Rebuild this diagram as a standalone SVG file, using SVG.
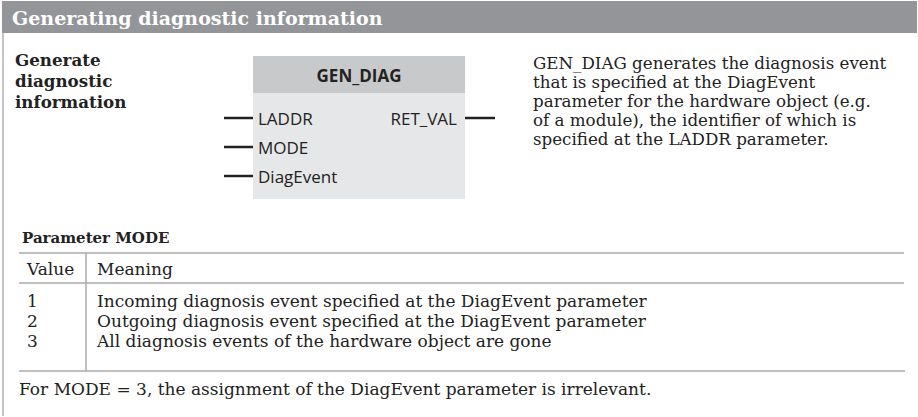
<svg xmlns="http://www.w3.org/2000/svg" width="918" height="417" viewBox="0 0 918 417">
<style>
.serif{font-family:"DejaVu Serif","Liberation Serif",serif;fill:#222}
.b{font-weight:bold}
.t{font-size:17px}
.d{font-size:16.7px}
.lb{font-size:16.7px}
.sans{font-family:"Open Sans","DejaVu Sans",sans-serif;fill:#222;font-size:17px}
.rule{stroke:#aaa;stroke-width:1.5;fill:none}
.pin{stroke:#222;stroke-width:2.5}
</style>
<rect x="0" y="0" width="918" height="417" fill="#fff"/>
<g id="frame">
<rect x="2" y="1" width="915" height="32" fill="#939598"/>
<line x1="3" y1="33" x2="3" y2="416" stroke="#b0b0b0" stroke-width="1.5"/>
<text x="12" y="25" class="serif b" style="font-size:19px;fill:#fff">Generating diagnostic information</text>
</g>
<g id="left-label">
<text class="serif b lb" x="15" y="66">Generate</text>
<text class="serif b lb" x="15" y="87">diagnostic</text>
<text class="serif b lb" x="15" y="108">information</text>
</g>
<g id="gen_diag">
<rect x="253" y="56" width="212" height="143" fill="#e6e7e8"/>
<rect x="253" y="56" width="212" height="37" fill="#c8c9ca"/>
<text x="359" y="82" class="sans" style="font-weight:bold;font-size:17px" text-anchor="middle">GEN_DIAG</text>
<text x="258" y="125" class="sans">LADDR</text>
<text x="258" y="154" class="sans">MODE</text>
<text x="258" y="183" class="sans">DiagEvent</text>
<text x="457" y="125" class="sans" text-anchor="end">RET_VAL</text>
</g>
<g id="connectors">
<line class="pin" x1="224" y1="118" x2="253" y2="118"/>
<line class="pin" x1="224" y1="147" x2="253" y2="147"/>
<line class="pin" x1="224" y1="176" x2="253" y2="176"/>
<line class="pin" x1="465" y1="118" x2="495" y2="118"/>
</g>
<g id="description">
<text class="serif d" x="533" y="69">GEN_DIAG generates the diagnosis event</text>
<text class="serif d" x="533" y="88">that is specified at the DiagEvent</text>
<text class="serif d" x="533" y="107">parameter for the hardware object (e.g.</text>
<text class="serif d" x="533" y="126">of a module), the identifier of which is</text>
<text class="serif d" x="533" y="145">specified at the LADDR parameter.</text>
</g>
<g id="table">
<text class="serif b" style="font-size:15px" x="22" y="243">Parameter MODE</text>
<line class="rule" x1="19" y1="253" x2="904" y2="253"/>
<line class="rule" x1="19" y1="283" x2="904" y2="283"/>
<line class="rule" x1="19" y1="371" x2="905" y2="371"/>
<line class="rule" x1="86" y1="253" x2="86" y2="371"/>
<text class="serif t" x="27" y="275">Value</text>
<text class="serif t" x="97" y="275">Meaning</text>
<text class="serif t" x="27" y="307">1</text>
<text class="serif t" x="97" y="307">Incoming diagnosis event specified at the DiagEvent parameter</text>
<text class="serif t" x="27" y="327">2</text>
<text class="serif t" x="97" y="327">Outgoing diagnosis event specified at the DiagEvent parameter</text>
<text class="serif t" x="27" y="347">3</text>
<text class="serif t" x="97" y="347">All diagnosis events of the hardware object are gone</text>
<text class="serif t" x="19" y="395">For MODE = 3, the assignment of the DiagEvent parameter is irrelevant.</text>
</g>
</svg>
